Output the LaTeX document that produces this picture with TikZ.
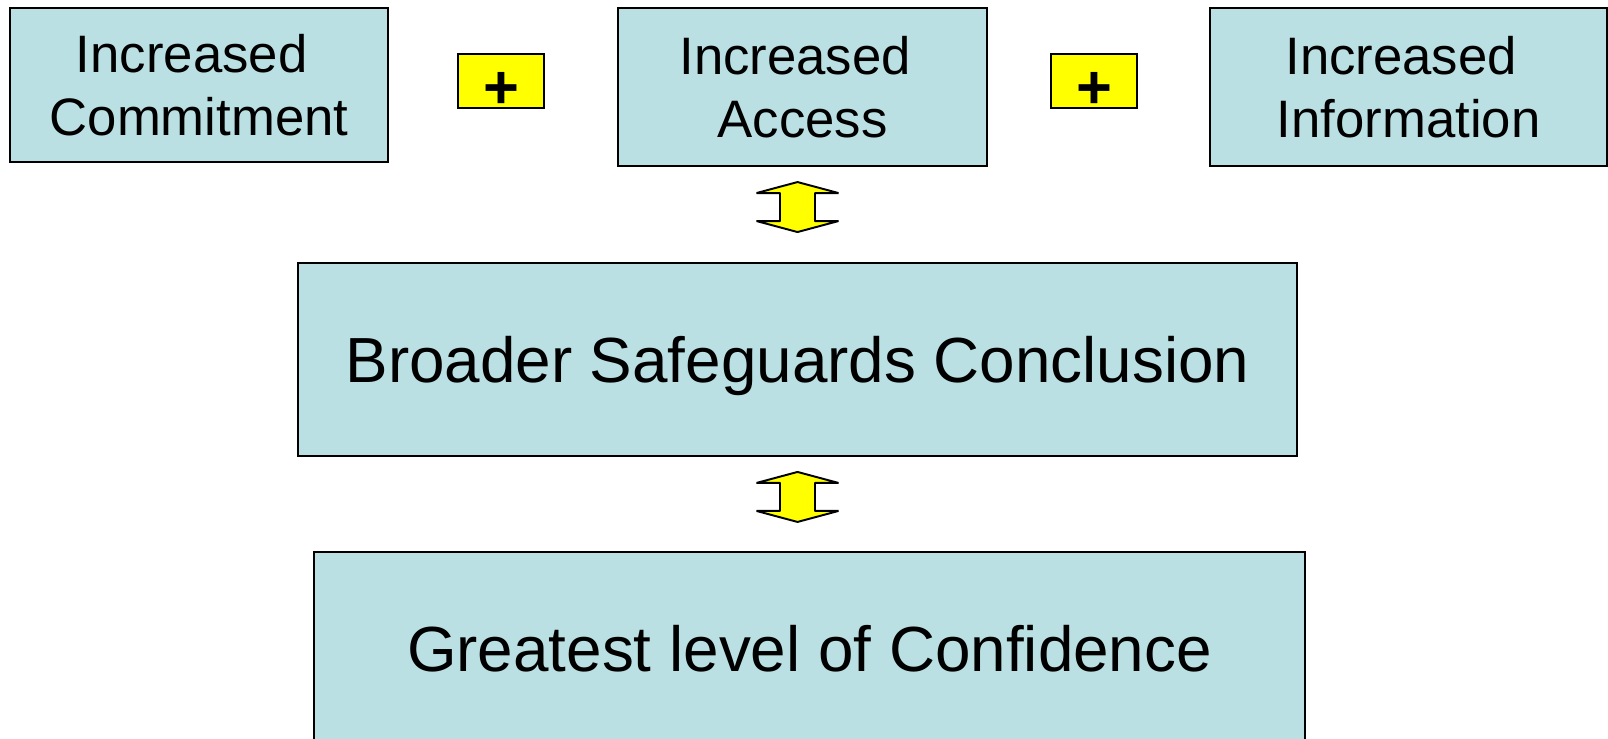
\documentclass[tikz,border=0pt]{standalone}
\usepackage{fontspec}
\setmainfont{Liberation Sans}
\usetikzlibrary{calc,positioning}
\definecolor{boxblue}{RGB}{186,224,227}
\definecolor{plusyellow}{RGB}{255,255,0}
\tikzset{
  topbox/.style={draw=black, line width=1.1pt, fill=boxblue, align=center,
    inner sep=0pt, font=\fontsize{30}{35.7}\selectfont},
  bigbox/.style={draw=black, line width=1.1pt, fill=boxblue, inner sep=0pt,
    text height=26pt, text depth=0pt, font=\fontsize{36.3}{43}\selectfont},
  plusbox/.style={draw=black, line width=1.3pt, fill=plusyellow, inner sep=0pt,
    minimum width=1.72cm, minimum height=1.04cm, text height=31pt, text depth=0pt,
    font=\fontsize{35}{35}\selectfont\bfseries},
  twoway/.pic={
    \draw[line width=1.1pt, fill=plusyellow, line join=bevel]
      (0,-25) -- (41,-14) -- (17.5,-14) -- (17.5,14) -- (41,14) -- (0,25)
      -- (-41,14) -- (-17.5,14) -- (-17.5,-14) -- (-41,-14) -- cycle;
  }
}
\begin{document}
\begin{tikzpicture}[x=0.02cm, y=-0.02cm]
  \useasboundingbox (0,0) rectangle (1608,739);
  \clip (0,0) rectangle (1608,739);
  % top row
  \node[topbox, minimum width=7.56cm, minimum height=3.08cm] (commit) at (199,85)
    {Increased\kern.28em\\Commitment};
  \node[topbox, minimum width=7.38cm, minimum height=3.16cm] (access) at (802.5,87)
    {Increased\kern.28em\\Access};
  \node[topbox, minimum width=7.94cm, minimum height=3.16cm] (info) at (1408.5,87)
    {Increased\kern.28em\\Information};
  \node[plusbox] (plusA) at (501,81) {+};
  \node[plusbox] (plusB) at (1094,81) {+};
  % conclusion and result
  \node[bigbox, minimum width=19.98cm, minimum height=3.86cm] (broader) at (797.5,359.5)
    {Broader Safeguards Conclusion};
  \node[bigbox, minimum width=19.82cm, minimum height=3.88cm] (greatest) at (809.5,649)
    {Greatest level of Confidence};
  % two-way arrows between the rows
  \pic at ($(broader.north)+(0,-55)$) {twoway};
  \pic at ($(broader.south)+(0,40)$) {twoway};
\end{tikzpicture}
\end{document}
